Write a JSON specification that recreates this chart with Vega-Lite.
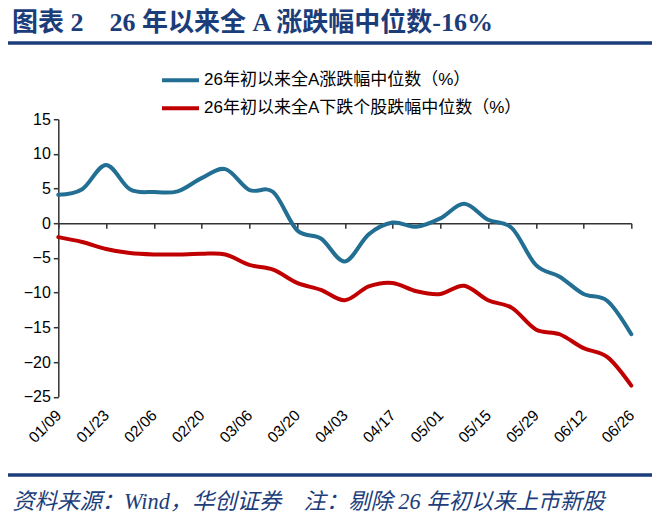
{
  "$schema": "https://vega.github.io/schema/vega-lite/v6.json",
  "width": 573,
  "height": 277.5,
  "autosize": "none",
  "padding": {"left": 58.3, "top": 119.2, "right": 28.7, "bottom": 122.3},
  "background": "white",
  "config": {"view": {"stroke": null}},
  "title": {
    "text": "图表 2　26 年以来全 A 涨跌幅中位数-16%",
    "anchor": "start",
    "frame": "group",
    "orient": "top",
    "align": "left",
    "baseline": "alphabetic",
    "offset": 0,
    "dx": -46.3,
    "dy": 16,
    "font": "Liberation Serif, Noto Sans CJK SC",
    "fontSize": 26,
    "fontWeight": "bold",
    "color": "#1B3D7A"
  },
  "datasets": {
    "weekly": [
      {"date": "01/09", "26年初以来全A涨跌幅中位数（%）": 4.1, "26年初以来全A下跌个股跌幅中位数（%）": -2.0},
      {"date": "01/16", "26年初以来全A涨跌幅中位数（%）": 4.9, "26年初以来全A下跌个股跌幅中位数（%）": -2.7},
      {"date": "01/23", "26年初以来全A涨跌幅中位数（%）": 8.4, "26年初以来全A下跌个股跌幅中位数（%）": -3.7},
      {"date": "01/30", "26年初以来全A涨跌幅中位数（%）": 4.9, "26年初以来全A下跌个股跌幅中位数（%）": -4.3},
      {"date": "02/06", "26年初以来全A涨跌幅中位数（%）": 4.5, "26年初以来全A下跌个股跌幅中位数（%）": -4.5},
      {"date": "02/13", "26年初以来全A涨跌幅中位数（%）": 4.6, "26年初以来全A下跌个股跌幅中位数（%）": -4.5},
      {"date": "02/20", "26年初以来全A涨跌幅中位数（%）": 6.5, "26年初以来全A下跌个股跌幅中位数（%）": -4.4},
      {"date": "02/27", "26年初以来全A涨跌幅中位数（%）": 7.8, "26年初以来全A下跌个股跌幅中位数（%）": -4.5},
      {"date": "03/06", "26年初以来全A涨跌幅中位数（%）": 4.8, "26年初以来全A下跌个股跌幅中位数（%）": -6.0},
      {"date": "03/13", "26年初以来全A涨跌幅中位数（%）": 4.5, "26年初以来全A下跌个股跌幅中位数（%）": -6.7},
      {"date": "03/20", "26年初以来全A涨跌幅中位数（%）": -1.0, "26年初以来全A下跌个股跌幅中位数（%）": -8.6},
      {"date": "03/27", "26年初以来全A涨跌幅中位数（%）": -2.2, "26年初以来全A下跌个股跌幅中位数（%）": -9.6},
      {"date": "04/03", "26年初以来全A涨跌幅中位数（%）": -5.5, "26年初以来全A下跌个股跌幅中位数（%）": -11.1},
      {"date": "04/10", "26年初以来全A涨跌幅中位数（%）": -1.6, "26年初以来全A下跌个股跌幅中位数（%）": -9.1},
      {"date": "04/17", "26年初以来全A涨跌幅中位数（%）": 0.1, "26年初以来全A下跌个股跌幅中位数（%）": -8.6},
      {"date": "04/24", "26年初以来全A涨跌幅中位数（%）": -0.5, "26年初以来全A下跌个股跌幅中位数（%）": -9.8},
      {"date": "05/01", "26年初以来全A涨跌幅中位数（%）": 0.7, "26年初以来全A下跌个股跌幅中位数（%）": -10.2},
      {"date": "05/08", "26年初以来全A涨跌幅中位数（%）": 2.8, "26年初以来全A下跌个股跌幅中位数（%）": -9.0},
      {"date": "05/15", "26年初以来全A涨跌幅中位数（%）": 0.5, "26年初以来全A下跌个股跌幅中位数（%）": -11.1},
      {"date": "05/22", "26年初以来全A涨跌幅中位数（%）": -0.7, "26年初以来全A下跌个股跌幅中位数（%）": -12.2},
      {"date": "05/29", "26年初以来全A涨跌幅中位数（%）": -6.0, "26年初以来全A下跌个股跌幅中位数（%）": -15.3},
      {"date": "06/05", "26年初以来全A涨跌幅中位数（%）": -7.7, "26年初以来全A下跌个股跌幅中位数（%）": -16.0},
      {"date": "06/12", "26年初以来全A涨跌幅中位数（%）": -10.2, "26年初以来全A下跌个股跌幅中位数（%）": -18.0},
      {"date": "06/19", "26年初以来全A涨跌幅中位数（%）": -11.2, "26年初以来全A下跌个股跌幅中位数（%）": -19.3},
      {"date": "06/26", "26年初以来全A涨跌幅中位数（%）": -16.0, "26年初以来全A下跌个股跌幅中位数（%）": -23.4}
    ]
  },
  "layer": [
    {
      "data": {"name": "weekly"},
      "transform": [
        {"fold": ["26年初以来全A涨跌幅中位数（%）", "26年初以来全A下跌个股跌幅中位数（%）"], "as": ["series", "value"]}
      ],
      "mark": {"type": "line", "interpolate": "cardinal", "strokeWidth": 4, "strokeCap": "round"},
      "encoding": {
        "x": {
          "field": "date",
          "type": "ordinal",
          "sort": null,
          "scale": {"type": "point", "padding": 0},
          "axis": {
            "values": ["01/09", "01/23", "02/06", "02/20", "03/06", "03/20", "04/03", "04/17", "05/01", "05/15", "05/29", "06/12", "06/26"],
            "offset": -173.44,
            "domainColor": "#333333",
            "domainWidth": 1.5,
            "tickColor": "#333333",
            "tickWidth": 1.5,
            "tickSize": 5,
            "labelAngle": -45,
            "labelAlign": "right",
            "labelBaseline": "middle",
            "labelPadding": 184,
            "labelFont": "Liberation Sans",
            "labelFontSize": 15.5,
            "labelColor": "#000000",
            "grid": false,
            "title": "资料来源：Wind，华创证券　注：剔除 26 年初以来上市新股",
            "titleX": -46.3,
            "titleY": 285,
            "titleAlign": "left",
            "titleAnchor": "start",
            "titleBaseline": "alphabetic",
            "titleAngle": 0,
            "titleFont": "Liberation Serif, Noto Sans CJK SC",
            "titleFontSize": 22.3,
            "titleFontStyle": "italic",
            "titleFontWeight": "normal",
            "titleColor": "#1B3D7A"
          }
        },
        "y": {
          "field": "value",
          "type": "quantitative",
          "scale": {"domain": [-25, 15], "nice": false, "zero": false},
          "axis": {
            "values": [-25, -20, -15, -10, -5, 0, 5, 10, 15],
            "domainColor": "#333333",
            "domainWidth": 1.5,
            "tickColor": "#333333",
            "tickWidth": 1.5,
            "tickSize": 5,
            "labelPadding": 3,
            "labelFont": "Liberation Sans",
            "labelFontSize": 16,
            "labelColor": "#000000",
            "grid": false,
            "title": null
          }
        },
        "color": {
          "field": "series",
          "type": "nominal",
          "scale": {
            "domain": ["26年初以来全A涨跌幅中位数（%）", "26年初以来全A下跌个股跌幅中位数（%）"],
            "range": ["#226F93", "#C00000"]
          },
          "legend": {
            "orient": "none",
            "legendX": 101.7,
            "legendY": -50,
            "direction": "vertical",
            "title": null,
            "symbolType": "stroke",
            "symbolSize": 1369,
            "symbolStrokeWidth": 4,
            "clipHeight": 22,
            "rowPadding": 6,
            "labelOffset": 3,
            "labelFont": "Liberation Sans, Noto Sans CJK SC",
            "labelFontSize": 17,
            "labelColor": "#000000",
            "labelLimit": 500
          }
        }
      }
    },
    {
      "data": {"values": [{}]},
      "mark": {"type": "rule", "color": "#1B3D7A", "strokeWidth": 3.5},
      "encoding": {"x": {"value": -50.3}, "x2": {"value": 593.7}, "y": {"value": -76.2}}
    },
    {
      "data": {"values": [{}]},
      "mark": {"type": "rule", "color": "#1B3D7A", "strokeWidth": 3.5},
      "encoding": {"x": {"value": -50.3}, "x2": {"value": 593.7}, "y": {"value": 355.8}}
    }
  ]
}
